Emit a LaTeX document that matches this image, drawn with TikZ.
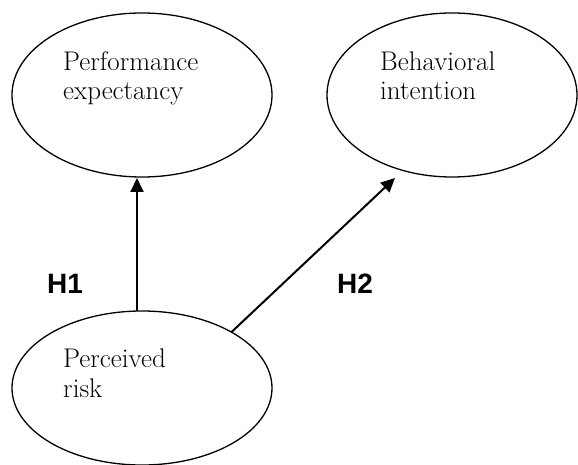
\documentclass[tikz,border=0pt]{standalone}
\usepackage{fontspec}
\setsansfont{Liberation Sans}
\usetikzlibrary{arrows.meta,shapes.geometric}
\definecolor{Ink}{HTML}{000000}
\tikzset{
  construct/.style={draw=Ink, line width=1.3bp, ellipse, inner sep=0pt, outer sep=0pt},
  conlab/.style={font=\fontsize{27bp}{29.5bp}\selectfont, text=Ink, align=left, anchor=base west, inner sep=0pt},
  hyplab/.style={font=\sffamily\bfseries\fontsize{28bp}{32bp}\selectfont, text=Ink, anchor=base west, inner sep=0pt},
  patharrow/.style={-{Triangle[length=14bp, width=13bp]}, line width=2bp, draw=Ink},
}
\begin{document}
\begin{tikzpicture}[x={(1bp,0)}, y={(0,-1bp)}]
    \useasboundingbox (0,0) rectangle (578,465);
    \node[construct, minimum width=260bp, minimum height=164bp] (pe) at (142, 95) {};
    \node[construct, minimum width=250bp, minimum height=164bp] (bi) at (452, 95) {};
    \node[construct, minimum width=260bp, minimum height=154bp] (pr) at (142, 388) {};
    % base anchor sits on the last line
    \node[conlab] (pelab) at (63, 100) {Performance\\expectancy};
    \node[conlab] (bilab) at (380, 100) {Behavioral\\intention};
    \node[conlab] (prlab) at (63, 397) {Perceived\\risk};
    \coordinate (bitip) at (395, 178);
    \draw[patharrow] ([xshift=-5bp]pr.north) -- ([xshift=-5bp, yshift=-1bp]pe.south);
    \draw[patharrow] (pr.32) -- (bitip);
    \node[hyplab] (h1) at (47, 293) {H1};
    \node[hyplab] (h2) at (337, 293) {H2};
  \end{tikzpicture}
\end{document}
